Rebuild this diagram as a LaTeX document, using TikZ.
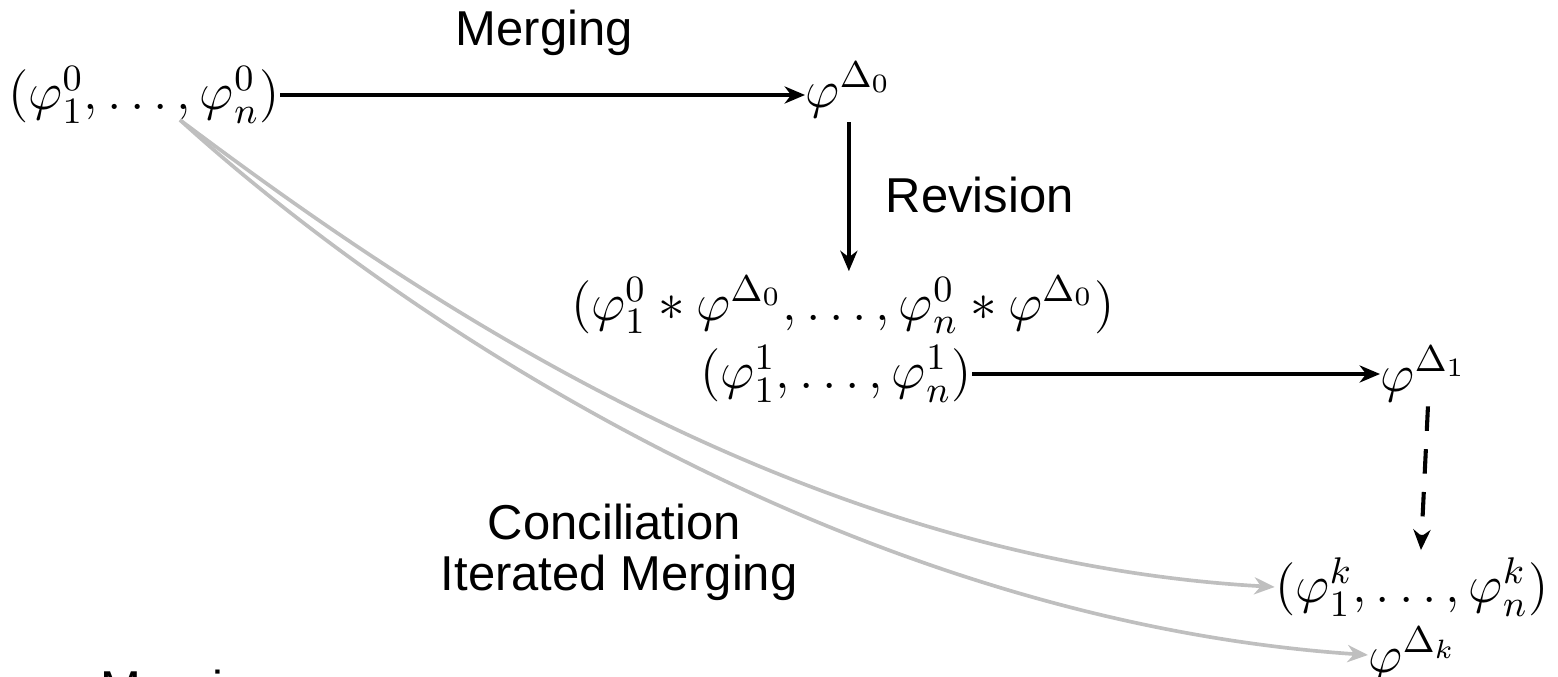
\documentclass[tikz,border=0pt]{standalone}
\usepackage{fix-cm}
\usepackage{fontspec}
\newfontfamily\labelfont{Liberation Sans}
\usetikzlibrary{arrows.meta}

\begin{document}
\begin{tikzpicture}[x=0.245pt, y=-0.245pt,
  lbl/.style={font=\labelfont\fontsize{12}{14}\selectfont, inner sep=0pt, anchor=base west},
  mth/.style={font=\fontsize{13}{15.5}\selectfont, inner sep=0pt},
  tip/.style={-{Stealth[length=5pt, width=4.2pt, inset=1.6pt]}},
  flow/.style={tip, line width=0.8pt},
  conc/.style={tip, draw=black!25, line width=0.9pt}]
\useasboundingbox (0,0) rectangle (1558,677);

% states and merged bases
\node[mth] (A) at (144,95) {$(\varphi_1^0,\ldots,\varphi_n^0)$};
\node[mth, anchor=west] (B) at (805,90) {$\varphi^{\Delta_0}$};
\node[mth] (C) at (843,305) {$(\varphi_1^0*\varphi^{\Delta_0},\ldots,\varphi_n^0*\varphi^{\Delta_0})$};
\node[mth] (D) at (836,374) {$(\varphi_1^1,\ldots,\varphi_n^1)$};
\node[mth, anchor=west] (E) at (1380,374) {$\varphi^{\Delta_1}$};
\node[mth] (F) at (1412,587) {$(\varphi_1^k,\ldots,\varphi_n^k)$};
\node[mth, anchor=west] (G) at (1368,655) {$\varphi^{\Delta_k}$};

% labels
\node[lbl] (m1) at (455,46) {Merging};
\node[lbl] (rev) at (885,213) {Revision};
\node[lbl] (con) at (487,540) {Conciliation};
\node[lbl] (itm) at (440,591) {Iterated Merging};
\node[lbl] (m2) at (100,706) {Merging};

% main steps
\draw[flow] (A.east) -- (A.east -| B.west);
\draw[flow, shorten <=1pt, shorten >=1pt] (B.south) -- (B.south |- C.north);
\draw[flow] (D.east) -- (D.east -| E.west);
\coordinate (e1) at ([xshift=1pt, yshift=-1pt]E.south);
\coordinate (f1) at ([xshift=2.2pt, yshift=1.7pt]F.north);
\draw[flow, line width=1pt, dash pattern=on 6pt off 4.5pt] (e1) -- (f1);

% conciliation shortcut
\coordinate (s) at (180,120);
\draw[conc] (s) .. controls (420,300) and (800,560) .. (F.west);
\draw[conc] (s) .. controls (400,320) and (850,620) .. (G.west);
\end{tikzpicture}
\end{document}
